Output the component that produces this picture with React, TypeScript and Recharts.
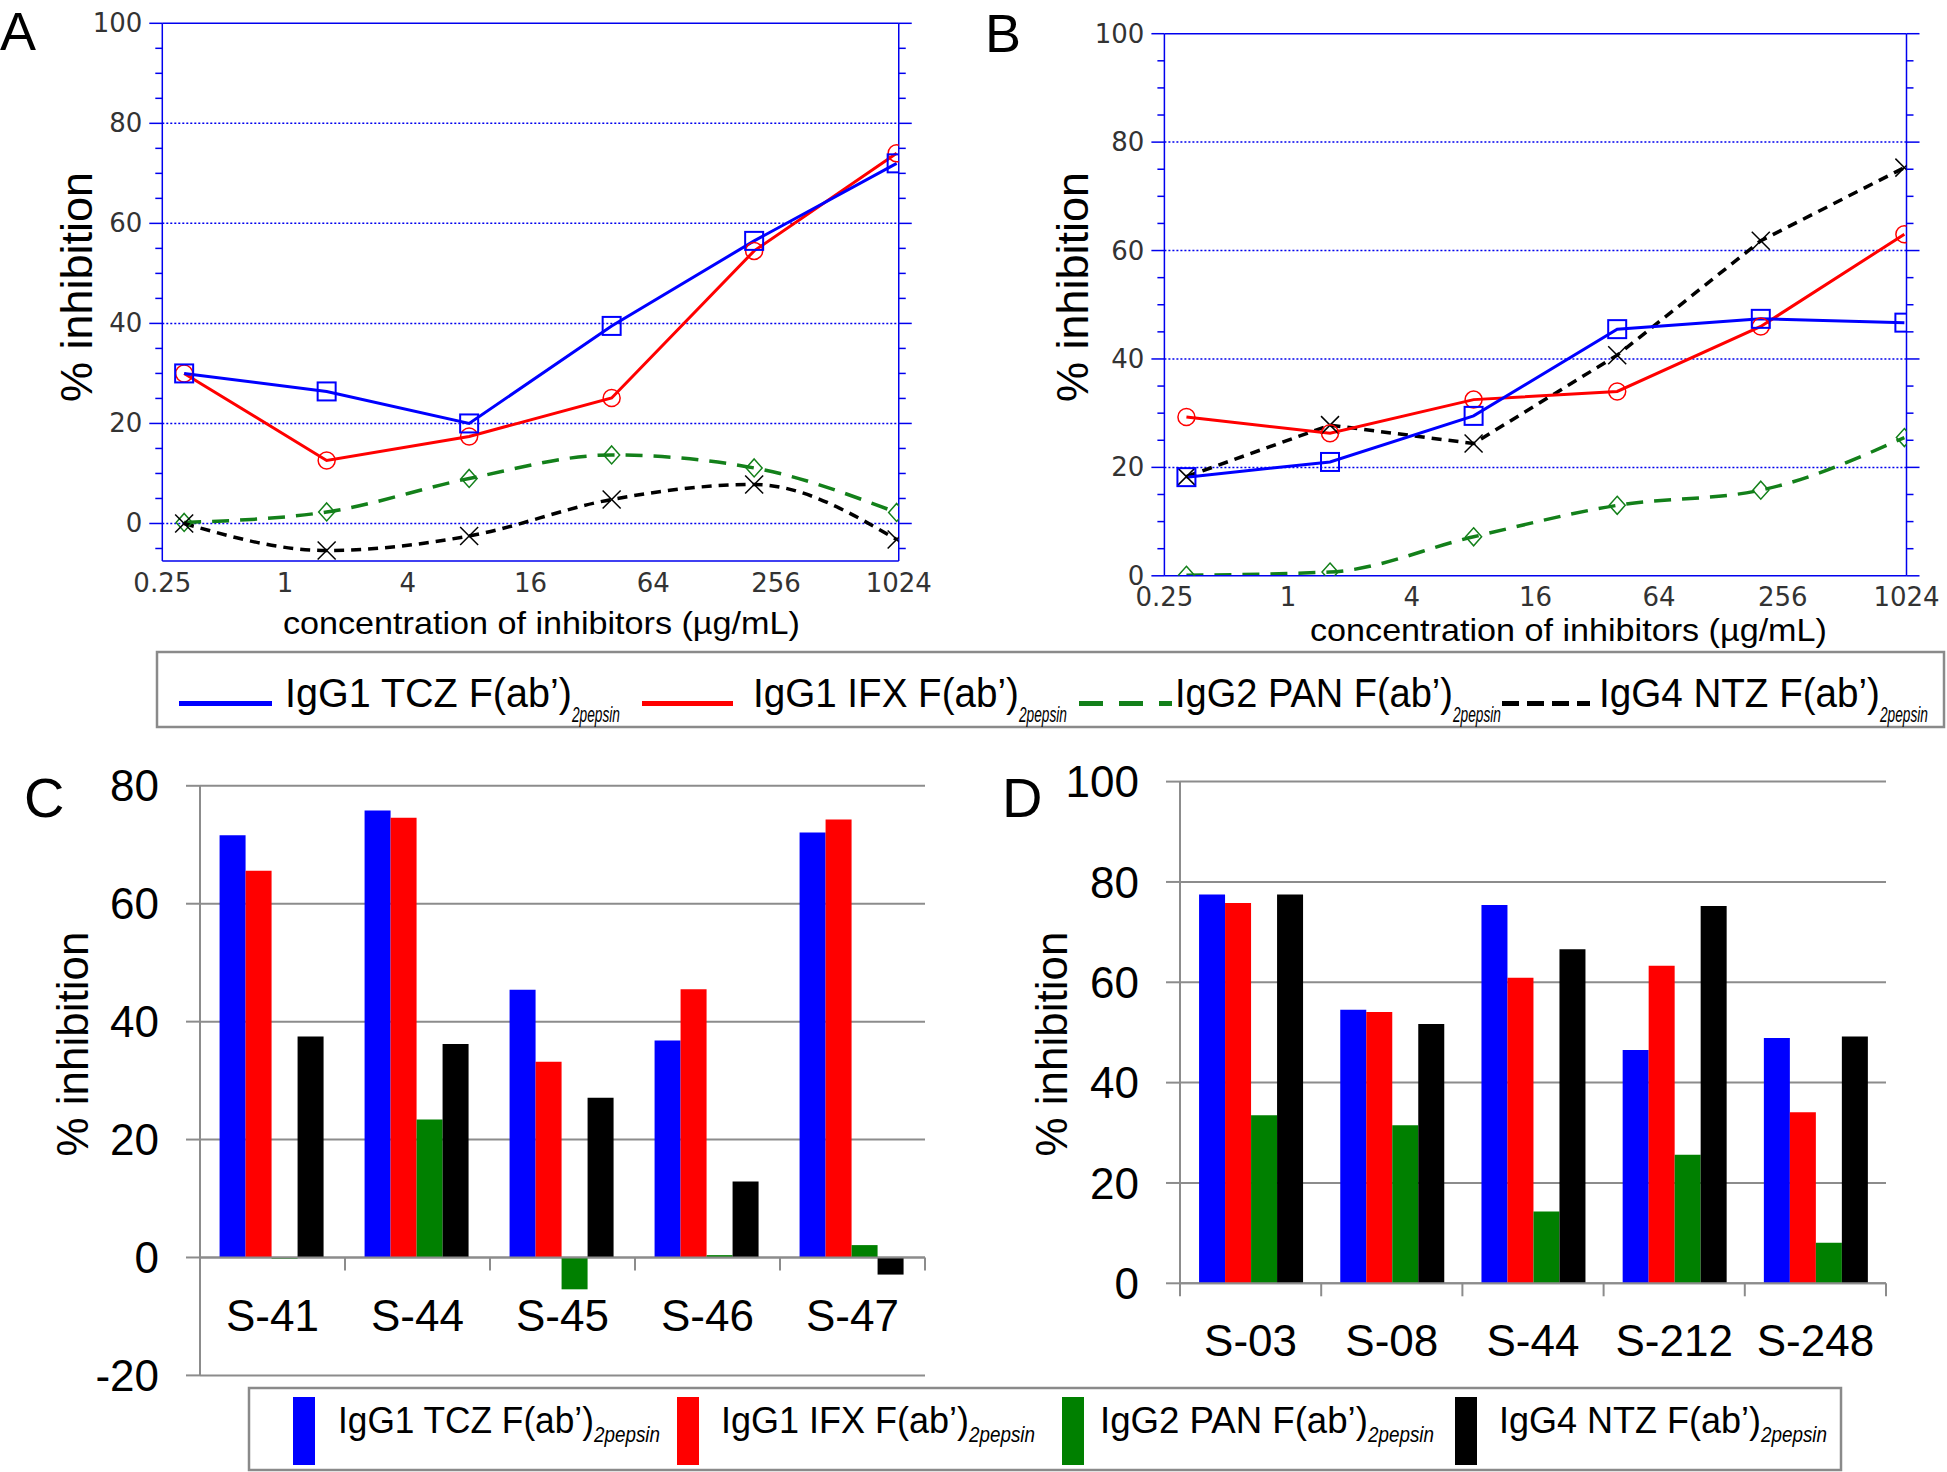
import React, { useLayoutEffect, useRef, useState } from "react";
import {
  LineChart,
  Line,
  BarChart,
  Bar,
  XAxis,
  YAxis,
  CartesianGrid,
  ReferenceLine,
} from "recharts";

// dilution series used in panels A and B (µg/mL)
const concentrations = [0.32, 1.6, 8, 40, 200, 1000];
const concTicks = [0.25, 1, 4, 16, 64, 256, 1024];

// panel A – % inhibition
const aTCZ = [30, 26.4, 20, 39.5, 56.5, 72];
const aIFX = [30, 12.6, 17.4, 25.1, 54.5, 74];
const aPAN = [0.2, 2.3, 9, 13.7, 11.1, 2.2];
const aNTZ = [0, -5.4, -2.5, 4.8, 7.8, -3.2];
const aTicks = [-5, 0, 5, 10, 15, 20, 25, 30, 35, 40, 45, 50, 55, 60, 65, 70, 75, 80, 85, 90, 95, 100];
const aGrid = [0, 20, 40, 60, 80];

// panel B – % inhibition
const bTCZ = [18.2, 21, 29.5, 45.5, 47.4, 46.7];
const bIFX = [29.3, 26.3, 32.5, 34, 46, 63];
const bPAN = [0.1, 0.7, 7.2, 13, 15.8, 25.5];
const bNTZ = [18.3, 27.8, 24.4, 40.7, 61.8, 75.3];
const bTicks = [0, 5, 10, 15, 20, 25, 30, 35, 40, 45, 50, 55, 60, 65, 70, 75, 80, 85, 90, 95, 100];
const bGrid = [20, 40, 60, 80];

// panel C
const cSamples = ["S-41", "S-44", "S-45", "S-46", "S-47"];
const cTCZ = [71.6, 75.8, 45.4, 36.8, 72.1];
const cIFX = [65.6, 74.6, 33.2, 45.5, 74.3];
const cPAN = [-0.2, 23.4, -5.4, 0.4, 2.1];
const cNTZ = [37.5, 36.2, 27.1, 12.9, -2.9];
const cTicks = [-20, 0, 20, 40, 60, 80];

// panel D
const dSamples = ["S-03", "S-08", "S-44", "S-212", "S-248"];
const dTCZ = [77.5, 54.5, 75.4, 46.5, 48.9];
const dIFX = [75.8, 54.1, 60.9, 63.3, 34.1];
const dPAN = [33.5, 31.5, 14.3, 25.6, 8.1];
const dNTZ = [77.5, 51.7, 66.6, 75.2, 49.2];
const dTicks = [0, 20, 40, 60, 80, 100];

const seriesLabels = ["IgG1 TCZ F(ab’)", "IgG1 IFX F(ab’)", "IgG2 PAN F(ab’)", "IgG4 NTZ F(ab’)"];
const subLabel = "2pepsin";
const xTitle = "concentration of inhibitors (µg/mL)";
const yTitle = "% inhibition";

const BLUE = "#0000ff";
const RED = "#ff0000";
const GREEN_LINE = "#13801a";
const GREEN_BAR = "#008000";
const BLACK = "#000000";
const AXIS_BLUE = "#0000ee";
const GRAY = "#8c8c8c";
const BOX = "#8a8a8a";
const SANS = "'Liberation Sans', Arial, sans-serif";

// text squeezed horizontally to a given width (the original uses a narrow face)
function FitText({ x, y, width, children, ...rest }: any) {
  const ref = useRef<SVGTextElement>(null);
  const [sx, setSx] = useState(1);
  useLayoutEffect(() => {
    if (ref.current) {
      const w = ref.current.getComputedTextLength();
      if (w > 0) setSx(width / w);
    }
  }, [width, children]);
  return (
    <text ref={ref} transform={`translate(${x},${y}) scale(${sx},1)`} {...rest}>
      {children}
    </text>
  );
}

const LeftTick = (props: any) => {
  const { x, y, payload } = props;
  const major = payload.value % 20 === 0;
  return (
    <g>
      <line x1={x} x2={x - (major ? 13 : 7)} y1={y} y2={y} stroke={AXIS_BLUE} strokeWidth={1.5} />
      {major && (
        <text x={x - 20} y={y} textAnchor="end" dominantBaseline="central" fontFamily="DejaVu Sans" fontSize={26} fill="#333">
          {payload.value}
        </text>
      )}
    </g>
  );
};

const RightTick = (props: any) => {
  const { x, y, payload } = props;
  const major = payload.value % 20 === 0;
  return <line x1={x} x2={x + (major ? 13 : 7)} y1={y} y2={y} stroke={AXIS_BLUE} strokeWidth={1.5} />;
};

const squareDot = (props: any) => {
  const { cx, cy, index } = props;
  return <rect key={`s${index}`} x={cx - 9} y={cy - 9} width={18} height={18} fill="none" stroke={BLUE} strokeWidth={2} />;
};
const circleDot = (props: any) => {
  const { cx, cy, index } = props;
  return <circle key={`c${index}`} cx={cx} cy={cy} r={8.5} fill="none" stroke={RED} strokeWidth={1.5} />;
};
const diamondDot = (props: any) => {
  const { cx, cy, index } = props;
  return (
    <polygon
      key={`d${index}`}
      points={`${cx},${cy - 9} ${cx + 8},${cy} ${cx},${cy + 9} ${cx - 8},${cy}`}
      fill="none"
      stroke={GREEN_LINE}
      strokeWidth={1.5}
    />
  );
};
const crossDot = (props: any) => {
  const { cx, cy, index } = props;
  return (
    <g key={`x${index}`}>
      <line x1={cx - 9} y1={cy - 9} x2={cx + 9} y2={cy + 9} stroke={BLACK} strokeWidth={1.5} />
      <line x1={cx - 9} y1={cy + 9} x2={cx + 9} y2={cy - 9} stroke={BLACK} strokeWidth={1.5} />
    </g>
  );
};

type DoseProps = {
  width: number;
  height: number;
  margin: { top: number; right: number; bottom: number; left: number };
  yMin: number;
  yTicks: number[];
  grid: number[];
  tcz: number[];
  ifx: number[];
  pan: number[];
  ntz: number[];
  ntzCurve: "monotone" | "linear";
  xTickMargin: number;
};

function DoseChart(p: DoseProps) {
  const data = concentrations.map((conc, i) => ({
    conc,
    tcz: p.tcz[i],
    ifx: p.ifx[i],
    pan: p.pan[i],
    ntz: p.ntz[i],
  }));
  const axisLine = { stroke: AXIS_BLUE, strokeWidth: 1.5 };
  return (
    <LineChart width={p.width} height={p.height} data={data} margin={p.margin}>
      <XAxis
        dataKey="conc"
        type="number"
        scale="log"
        domain={[0.25, 1024]}
        ticks={concTicks}
        interval={0}
        allowDataOverflow
        axisLine={axisLine}
        tickLine={false}
        tickSize={0}
        tickMargin={p.xTickMargin}
        height={60}
        tick={{ fontFamily: "DejaVu Sans", fontSize: 26, fill: "#333" }}
      />
      <YAxis
        yAxisId="l"
        type="number"
        domain={[p.yMin, 100]}
        ticks={p.yTicks}
        interval={0}
        allowDataOverflow
        width={100}
        axisLine={axisLine}
        tickLine={false}
        tickSize={0}
        tickMargin={0}
        tick={LeftTick}
      />
      <YAxis
        yAxisId="r"
        orientation="right"
        type="number"
        domain={[p.yMin, 100]}
        ticks={p.yTicks}
        interval={0}
        allowDataOverflow
        width={30}
        axisLine={axisLine}
        tickLine={false}
        tickSize={0}
        tickMargin={0}
        tick={RightTick}
      />
      {p.grid.map((v) => (
        <ReferenceLine key={v} yAxisId="l" y={v} stroke={AXIS_BLUE} strokeWidth={1.5} strokeDasharray="2 2" />
      ))}
      <ReferenceLine yAxisId="l" y={100} stroke={AXIS_BLUE} strokeWidth={1.5} />
      <Line yAxisId="l" type="monotone" dataKey="pan" stroke={GREEN_LINE} strokeWidth={3.5} strokeDasharray="17 11" dot={diamondDot} isAnimationActive={false} />
      <Line yAxisId="l" type={p.ntzCurve} dataKey="ntz" stroke={BLACK} strokeWidth={3.5} strokeDasharray="10 7" dot={crossDot} isAnimationActive={false} />
      <Line yAxisId="l" type="linear" dataKey="ifx" stroke={RED} strokeWidth={3} dot={circleDot} isAnimationActive={false} />
      <Line yAxisId="l" type="linear" dataKey="tcz" stroke={BLUE} strokeWidth={3} dot={squareDot} isAnimationActive={false} />
    </LineChart>
  );
}

function makeCategoryTick(zeroShift: number, band: number, count: number, labelDrop: number) {
  return (props: any) => {
    const { x, y, payload, index } = props;
    const yz = y - zeroShift;
    return (
      <g>
        <line x1={x - band / 2} x2={x - band / 2} y1={yz} y2={yz + 13} stroke={GRAY} strokeWidth={2} />
        {index === count - 1 && (
          <line x1={x + band / 2} x2={x + band / 2} y1={yz} y2={yz + 13} stroke={GRAY} strokeWidth={2} />
        )}
        <text x={x} y={yz + labelDrop} textAnchor="middle" fontFamily={SANS} fontSize={44} fill="#000">
          {payload.value}
        </text>
      </g>
    );
  };
}

type SampleProps = {
  width: number;
  height: number;
  margin: { top: number; right: number; bottom: number; left: number };
  samples: string[];
  tcz: number[];
  ifx: number[];
  pan: number[];
  ntz: number[];
  yTicks: number[];
  xHeight: number;
  showAxis: boolean;
  labelDrop: number;
};

function SampleChart(p: SampleProps) {
  const data = p.samples.map((s, i) => ({ s, tcz: p.tcz[i], ifx: p.ifx[i], pan: p.pan[i], ntz: p.ntz[i] }));
  const yMin = p.yTicks[0];
  const yMax = p.yTicks[p.yTicks.length - 1];
  const plotW = p.width - p.margin.left - p.margin.right - 120;
  const plotH = p.height - p.margin.top - p.margin.bottom - p.xHeight;
  const zeroShift = (plotH * (0 - yMin)) / (yMax - yMin);
  const tick = makeCategoryTick(zeroShift, plotW / p.samples.length, p.samples.length, p.labelDrop);
  return (
    <BarChart width={p.width} height={p.height} data={data} margin={p.margin} barCategoryGap="13.5%" barGap={0}>
      <CartesianGrid vertical={false} stroke={GRAY} strokeWidth={2} />
      <XAxis
        dataKey="s"
        interval={0}
        height={p.xHeight}
        axisLine={p.showAxis ? { stroke: GRAY, strokeWidth: 2 } : false}
        tickLine={false}
        tickSize={0}
        tickMargin={0}
        tick={tick}
      />
      <YAxis
        type="number"
        domain={[yMin, yMax]}
        ticks={p.yTicks}
        interval={0}
        width={120}
        axisLine={{ stroke: GRAY, strokeWidth: 2 }}
        tickLine={{ stroke: GRAY, strokeWidth: 2 }}
        tickSize={14}
        tickMargin={27}
        tick={{ fontFamily: SANS, fontSize: 44, fill: "#000" }}
      />
      <Bar dataKey="tcz" fill={BLUE} isAnimationActive={false} />
      <Bar dataKey="ifx" fill={RED} isAnimationActive={false} />
      <Bar dataKey="pan" fill={GREEN_BAR} isAnimationActive={false} />
      <Bar dataKey="ntz" fill={BLACK} isAnimationActive={false} />
      {!p.showAxis && <ReferenceLine y={0} stroke={GRAY} strokeWidth={2} />}
    </BarChart>
  );
}

// legend layout (x positions of symbol and text)
const topLegend = [
  { color: BLUE, dash: undefined, x1: 179, x2: 272, tx: 285, w: 287 },
  { color: RED, dash: undefined, x1: 642, x2: 733, tx: 753, w: 266 },
  { color: GREEN_LINE, dash: "24 16", x1: 1079, x2: 1172, tx: 1175, w: 278 },
  { color: BLACK, dash: "17 8", x1: 1502, x2: 1590, tx: 1599, w: 281 },
];
const bottomLegend = [
  { color: BLUE, rx: 293, tx: 338, w: 256 },
  { color: RED, rx: 677, tx: 721, w: 248 },
  { color: GREEN_BAR, rx: 1062, tx: 1100, w: 268 },
  { color: BLACK, rx: 1455, tx: 1499, w: 262 },
];

function Overlay() {
  return (
    <svg width={1947} height={1472} style={{ position: "absolute", left: 0, top: 0, pointerEvents: "none" }}>
      <g fontFamily={SANS} fill="#000">
        <text x={0} y={50} fontSize={54}>A</text>
        <text x={985} y={52} fontSize={54}>B</text>
        <text x={24} y={817} fontSize={56}>C</text>
        <text x={1002} y={817} fontSize={56}>D</text>

        <text transform="translate(76,287) rotate(-90)" textAnchor="middle" dominantBaseline="central" fontSize={45}>{yTitle}</text>
        <text transform="translate(1072,287) rotate(-90)" textAnchor="middle" dominantBaseline="central" fontSize={45}>{yTitle}</text>
        <text transform="translate(72,1044) rotate(-90)" textAnchor="middle" dominantBaseline="central" fontSize={44}>{yTitle}</text>
        <text transform="translate(1051,1044) rotate(-90)" textAnchor="middle" dominantBaseline="central" fontSize={44}>{yTitle}</text>

        <FitText x={283} y={634} width={517} fontSize={32}>{xTitle}</FitText>
        <FitText x={1310} y={640.5} width={517} fontSize={31}>{xTitle}</FitText>

        <rect x={157} y={652} width={1787} height={75} fill="none" stroke={BOX} strokeWidth={2.5} />
        {topLegend.map((l, i) => (
          <g key={i}>
            <line x1={l.x1} x2={l.x2} y1={703.5} y2={703.5} stroke={l.color} strokeWidth={5} strokeDasharray={l.dash} />
            <FitText x={l.tx} y={707} width={l.w} fontSize={41}>{seriesLabels[i]}</FitText>
            <FitText x={l.tx + l.w} y={722} width={48} fontSize={22} fontStyle="italic">{subLabel}</FitText>
          </g>
        ))}

        <rect x={249} y={1388} width={1592} height={82} fill="none" stroke={BOX} strokeWidth={2.5} />
        {bottomLegend.map((l, i) => (
          <g key={i}>
            <rect x={l.rx} y={1397} width={22} height={68} fill={l.color} />
            <FitText x={l.tx} y={1433} width={l.w} fontSize={37}>{seriesLabels[i]}</FitText>
            <FitText x={l.tx + l.w} y={1442} width={66} fontSize={22} fontStyle="italic">{subLabel}</FitText>
          </g>
        ))}
      </g>
    </svg>
  );
}

export default function App() {
  return (
    <div style={{ position: "absolute", left: 0, top: 0, width: 1947, height: 1472, background: "#fff", overflow: "hidden" }}>
      <div style={{ position: "absolute", left: 0, top: 0 }}>
        <DoseChart
          width={960}
          height={660}
          margin={{ top: 23.3, right: 31.25, bottom: 39, left: 62.3 }}
          yMin={-7.5}
          yTicks={aTicks}
          grid={aGrid}
          tcz={aTCZ}
          ifx={aIFX}
          pan={aPAN}
          ntz={aNTZ}
          ntzCurve="monotone"
          xTickMargin={13}
        />
      </div>
      <div style={{ position: "absolute", left: 980, top: 0 }}>
        <DoseChart
          width={967}
          height={680}
          margin={{ top: 33.7, right: 10.5, bottom: 44.2, left: 84.4 }}
          yMin={0}
          yTicks={bTicks}
          grid={bGrid}
          tcz={bTCZ}
          ifx={bIFX}
          pan={bPAN}
          ntz={bNTZ}
          ntzCurve="linear"
          xTickMargin={12}
        />
      </div>
      <div style={{ position: "absolute", left: 0, top: 700 }}>
        <SampleChart
          width={960}
          height={700}
          margin={{ top: 85.8, right: 35, bottom: 14.6, left: 80 }}
          samples={cSamples}
          tcz={cTCZ}
          ifx={cIFX}
          pan={cPAN}
          ntz={cNTZ}
          yTicks={cTicks}
          xHeight={10}
          showAxis={false}
          labelDrop={74}
        />
      </div>
      <div style={{ position: "absolute", left: 980, top: 700 }}>
        <SampleChart
          width={940}
          height={700}
          margin={{ top: 81.6, right: 34, bottom: 16.7, left: 80 }}
          samples={dSamples}
          tcz={dTCZ}
          ifx={dIFX}
          pan={dPAN}
          ntz={dNTZ}
          yTicks={dTicks}
          xHeight={100}
          showAxis={true}
          labelDrop={73}
        />
      </div>
      <Overlay />
    </div>
  );
}
